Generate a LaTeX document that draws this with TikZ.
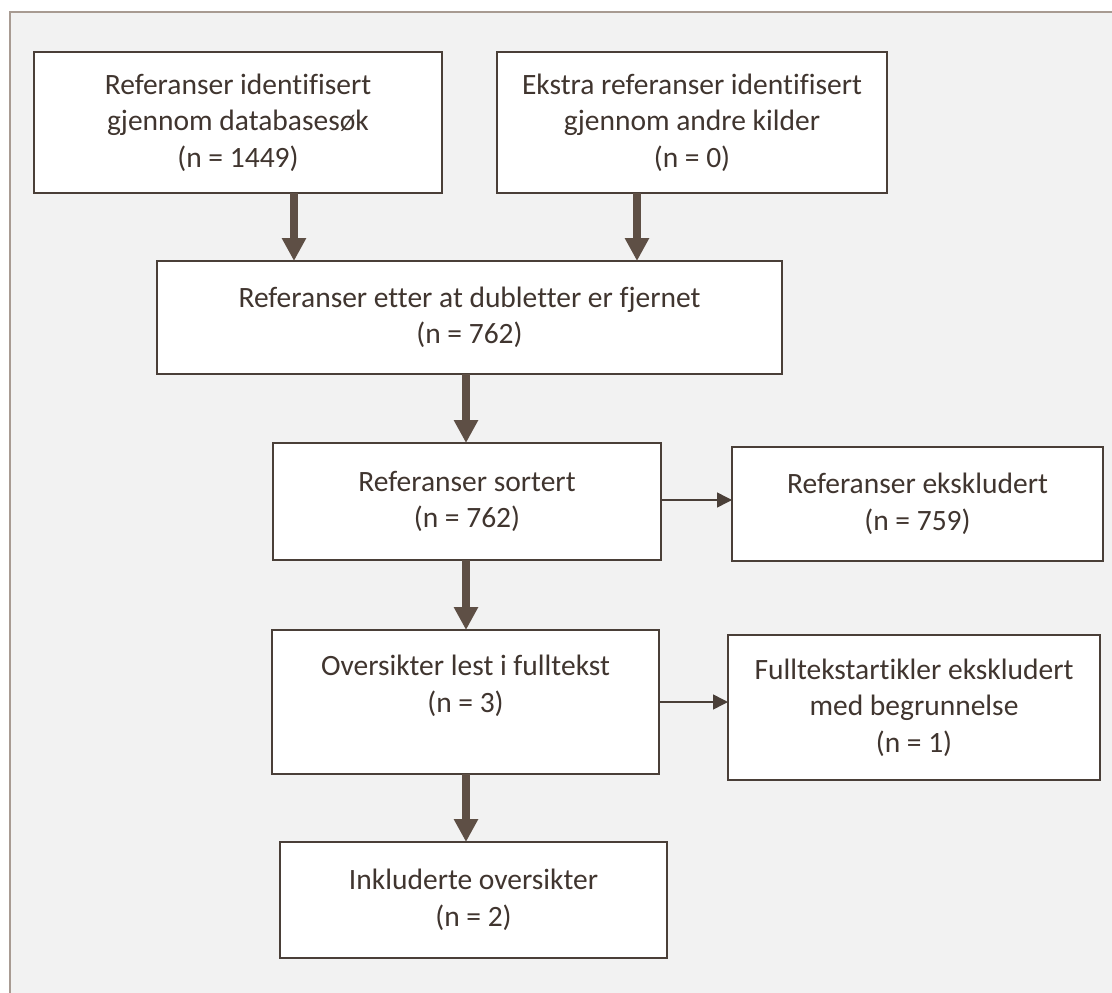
\documentclass[tikz,border=0pt]{standalone}
\usepackage{fontspec}
\setmainfont{Carlito}[Ligatures=NoCommon]
\usetikzlibrary{arrows.meta}
\definecolor{txtc}{HTML}{40352F}
\definecolor{edgec}{HTML}{4A3F38}
\definecolor{arrc}{HTML}{5E4F45}
\definecolor{framec}{HTML}{A89B92}
\definecolor{bgc}{HTML}{F2F2F2}
\begin{document}
\begin{tikzpicture}[x=1pt,y=-1pt,
 box/.style={draw=edgec, line width=1.6pt, fill=white, inner sep=0pt, outer sep=0pt, align=center, text=txtc, font=\fontsize{29.5}{36.5}\selectfont},
 bigarrow/.style={draw=arrc, fill=arrc, line width=7.5pt, -{Triangle[width=23pt,length=23pt]}},
 thinarrow/.style={draw=edgec, fill=edgec, line width=1.5pt, -{Triangle[width=15pt,length=15pt]}}]
\useasboundingbox (0,0) rectangle (1112,993);
\fill[white] (0,0) rectangle (1112,993);
\fill[bgc] (10,12) rectangle (1112,993);
\draw[framec, line width=2pt] (10,993) -- (10,12) -- (1112,12);

\node[box, minimum width=408pt, minimum height=141pt] (A) at (238,122.5) {Referanser identifisert\\gjennom databasesøk\\(n = 1449)};
\node[box, minimum width=390pt, minimum height=141pt] (B) at (692,122.5) {Ekstra referanser identifisert\\gjennom andre kilder\\(n = 0)};
\node[box, minimum width=625pt, minimum height=113pt] (C) at (469.5,317.5) {Referanser etter at dubletter er fjernet\\(n = 762)};
\node[box, minimum width=388pt, minimum height=117pt] (D) at (467,501.5) {Referanser sortert\\(n = 762)};
\node[box, minimum width=371pt, minimum height=114pt] (E) at (917.5,504) {Referanser ekskludert\\(n = 759)};
\node[box, minimum width=387pt, minimum height=144pt] (F) at (465.5,702) {Oversikter lest i fulltekst\\(n = 3)\\\mbox{}};
\node[box, minimum width=372pt, minimum height=145pt] (H) at (914,707.5) {Fulltekstartikler ekskludert\\med begrunnelse\\(n = 1)};
\node[box, minimum width=387pt, minimum height=116pt] (G) at (473.5,900) {Inkluderte oversikter\\(n = 2)};

\coordinate (xa) at (294,0);
\coordinate (xb) at (637,0);
\coordinate (xc) at (466,0);
\coordinate (yd) at (0,500);

\draw[bigarrow] (A.south -| xa) -- (C.north -| xa);
\draw[bigarrow] (B.south -| xb) -- (C.north -| xb);
\draw[bigarrow] (C.south -| xc) -- (D.north -| xc);
\draw[bigarrow] (D.south -| xc) -- (F.north -| xc);
\draw[bigarrow] (F.south -| xc) -- (G.north -| xc);
\draw[thinarrow] (D.east |- yd) -- (E.west |- yd);
\draw[thinarrow] (F.east) -- (F.east -| H.west);
\end{tikzpicture}
\end{document}
